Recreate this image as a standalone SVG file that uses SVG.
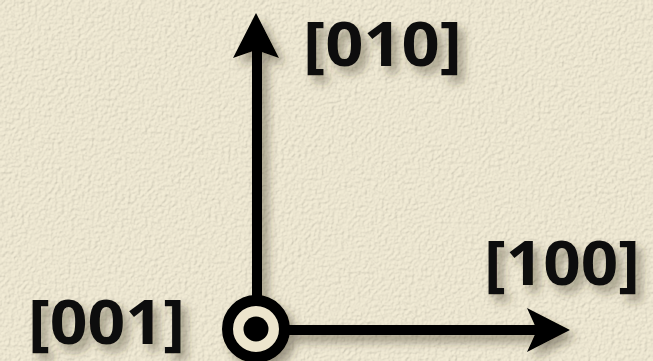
<svg xmlns="http://www.w3.org/2000/svg" width="653" height="361" viewBox="0 0 653 361">
<defs>
<filter id="paper" x="0" y="0" width="100%" height="100%">
<feTurbulence type="fractalNoise" baseFrequency="0.3" numOctaves="3" seed="4" result="n"/>
<feDiffuseLighting in="n" lighting-color="#fbf5e0" surfaceScale="1.2" result="l">
<feDistantLight azimuth="45" elevation="60"/>
</feDiffuseLighting>
<feComposite in="l" in2="SourceGraphic" operator="in"/>
</filter>
<filter id="sh" x="-30%" y="-30%" width="160%" height="160%">
<feDropShadow dx="6" dy="7" stdDeviation="5" flood-color="#3a3020" flood-opacity="0.45"/>
</filter>
<style>
.ax{stroke:#000;stroke-width:10;fill:none}
.hd{fill:#000}
.lbl{font-family:"Open Sans",sans-serif;font-weight:700;font-size:61px;fill:#111}
</style>
</defs>
<rect width="653" height="361" fill="#ece5ce"/>
<rect width="653" height="361" fill="#ece5ce" filter="url(#paper)" opacity="0.55"/>
<g filter="url(#sh)">
<g id="connectors">
<line class="ax" x1="257" y1="296" x2="257" y2="50"/>
<path class="hd" d="M256,13 L279,58 L256,50 L233,58 Z"/>
<line class="ax" x1="289" y1="330" x2="537" y2="330"/>
<path class="hd" d="M570,330 L527,352 L537,330 L527,308 Z"/>
</g>
<g id="node-001-axis">
<circle cx="256" cy="329" r="28.5" fill="#ede5cd" stroke="#000" stroke-width="11"/>
<circle cx="256" cy="329" r="12.5" fill="#000"/>
</g>
<g id="label-010"><text class="lbl" x="303" y="66" textLength="159" lengthAdjust="spacingAndGlyphs">[010]</text></g>
<g id="label-100"><text class="lbl" x="484" y="285" textLength="156" lengthAdjust="spacingAndGlyphs">[100]</text></g>
<g id="label-001"><text class="lbl" x="28" y="344" textLength="157" lengthAdjust="spacingAndGlyphs">[001]</text></g>
</g>
</svg>
